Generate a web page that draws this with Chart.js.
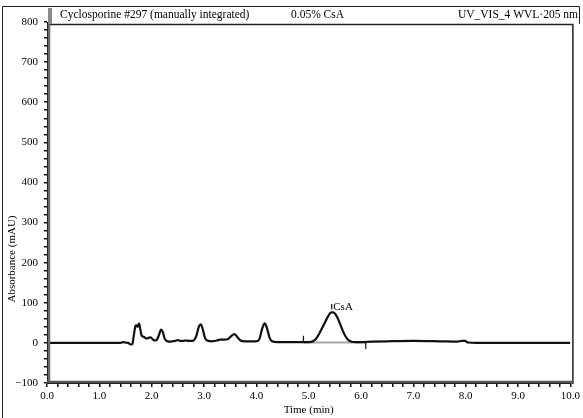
<!DOCTYPE html>
<html>
<head>
<meta charset="utf-8">
<script src="https://cdn.jsdelivr.net/npm/chart.js@4.4.1/dist/chart.umd.min.js"></script>
<style>
html,body{margin:0;padding:0;background:#fff;}
canvas{display:block;}
</style>
</head>
<body>
<canvas id="c" width="583" height="418"></canvas>
<script>
// Chromatogram trace (time in min, absorbance in mAU)
const times = [0.0,1.40,1.45,1.50,1.55,1.60,1.63,1.66,1.69,1.71,1.73,1.76,1.78,1.81,1.85,1.90,1.95,1.98,2.02,2.06,2.10,2.14,2.18,2.21,2.25,2.30,2.35,2.40,2.45,2.50,2.55,2.60,2.65,2.70,2.75,2.80,2.85,2.90,2.94,2.98,3.02,3.08,3.15,3.25,3.30,3.38,3.45,3.52,3.58,3.64,3.70,3.78,3.90,4.00,4.06,4.11,4.16,4.20,4.25,4.30,4.40,4.60,4.80,4.90,5.00,5.08,5.15,5.22,5.30,5.37,5.43,5.47,5.52,5.58,5.64,5.70,5.76,5.82,5.90,6.00,6.20,6.50,7.00,7.50,7.85,7.92,7.98,8.05,8.20,9.00,10.0];
const absorbance = [0,0,2,1,0,-4,-3,20,42,44,40,48,36,18,15,11,13,14,9,6,8,20,33,28,10,4,3,4,5,7,5,5,6,5,5,6,16,40,46,32,12,5,4,6,8,8,9,17,22,14,6,4,4,4,10,35,49,38,14,4,2,2,2,2,2,4,12,28,48,66,76,76,70,54,34,17,7,3,2,2,3,4,5,4,3,5,5,1,0,0,0];

// Integration baseline under the CsA peak
const baselineTimes = [4.90, 6.09];
const baselineValues = [1, 1];

// Integration markers (vertical ticks): [time, from, to]
const markerTimes = [4.90, 5.44, 6.09];
const markerFrom = [2, 83, 2];
const markerTo = [18, 97, -15];

const peakLabel = "CsA";
const peakLabelTime = 5.47;
const peakLabelValue = 90;

const xTickLabels = [0,1,2,3,4,5,6,7,8,9,10];
const yTickLabels = [-100,0,100,200,300,400,500,600,700,800];

const headerLeft = "Cyclosporine #297 (manually integrated)";
const headerMid = "0.05% CsA";
const headerRight = "UV_VIS_4 WVL\u00B7205 nm";
const xTitle = "Time (min)";
const yTitle = "Absorbance (mAU)";

const FONT = "'Liberation Serif','Times New Roman',serif";

const datasets = [];
datasets.push({
  data: baselineTimes.map((t,i)=>({x:t,y:baselineValues[i]})),
  borderColor: '#a8a8a8', borderWidth: 2, pointRadius: 0, tension: 0, order: 2
});
datasets.push({
  data: times.map((t,i)=>({x:t,y:absorbance[i]})),
  borderColor: '#111', borderWidth: 2.2, pointRadius: 0,
  cubicInterpolationMode: 'monotone', order: 1
});
markerTimes.forEach((t,i)=>{
  datasets.push({
    data: [{x:t,y:markerFrom[i]},{x:t,y:markerTo[i]}],
    borderColor: '#111', borderWidth: 1.2, pointRadius: 0, tension: 0, order: 0
  });
});

const isInList = (v, list) => list.some(l => Math.abs(l - v) < 1e-6);

const decor = {
  id: 'decor',
  beforeDraw(chart) {
    const ctx = chart.ctx;
    ctx.save();
    ctx.fillStyle = '#fff';
    ctx.fillRect(0,0,chart.width,chart.height);
    ctx.restore();
  },
  afterDraw(chart) {
    const ctx = chart.ctx;
    const a = chart.chartArea;
    const xs = chart.scales.x, ys = chart.scales.y;
    ctx.save();
    // outer frame
    ctx.strokeStyle = '#222';
    ctx.lineWidth = 1;
    ctx.beginPath();
    ctx.moveTo(2.5, 418); ctx.lineTo(2.5, 6.5); ctx.lineTo(579.5, 6.5); ctx.lineTo(579.5, 24);
    ctx.stroke();
    // plot box
    ctx.lineWidth = 1.5;
    ctx.strokeStyle = '#222';
    ctx.beginPath();
    ctx.moveTo(a.left + 2, 24.5); ctx.lineTo(a.right + 2.5, 24.5); ctx.lineTo(a.right + 2.5, a.bottom + 1);
    ctx.stroke();
    ctx.strokeStyle = '#6a6a6a';
    ctx.lineWidth = 2.5;
    ctx.beginPath();
    ctx.moveTo(a.left + 2, 24); ctx.lineTo(a.left + 2, a.bottom);
    ctx.stroke();
    ctx.strokeStyle = '#555';
    ctx.lineWidth = 2.5;
    ctx.beginPath();
    ctx.moveTo(a.left, a.bottom - 1); ctx.lineTo(a.right + 3, a.bottom - 1);
    ctx.stroke();
    // small gray marker in header
    ctx.fillStyle = '#8a8a8a';
    ctx.fillRect(a.left + 1, 8, 4, 16);
    // header texts
    ctx.fillStyle = '#000';
    ctx.font = "11.5px " + FONT;
    ctx.textBaseline = 'middle';
    ctx.textAlign = 'left';
    ctx.fillText(headerLeft, 60, 14.5);
    ctx.fillText(headerMid, 291, 14.5);
    ctx.textAlign = 'right';
    ctx.fillText(headerRight, 578, 14.5);
    // peak label
    ctx.font = "11px " + FONT;
    ctx.textAlign = 'left';
    ctx.fillText(peakLabel, xs.getPixelForValue(peakLabelTime), ys.getPixelForValue(peakLabelValue));
    // axis titles
    ctx.textAlign = 'center';
    ctx.fillText(xTitle, (a.left + a.right) / 2, 410);
    ctx.translate(12, 259);
    ctx.rotate(-Math.PI / 2);
    ctx.fillText(yTitle, 0, 0);
    ctx.restore();
  }
};

new Chart(document.getElementById('c'), {
  type: 'line',
  data: { datasets },
  options: {
    responsive: false,
    animation: false,
    devicePixelRatio: 1,
    layout: { padding: { left: 0, right: 10, top: 22, bottom: 0 } },
    plugins: { legend: { display: false }, tooltip: { enabled: false } },
    scales: {
      x: {
        type: 'linear', min: 0, max: 10,
        afterFit(s) { s.height = 35; },
        border: { display: true, color: '#111', width: 1 },
        grid: { drawOnChartArea: false, drawTicks: true, tickLength: 4, color: '#111', lineWidth: 1.5 },
        ticks: {
          stepSize: 0.2, autoSkip: false, maxRotation: 0, padding: 3,
          color: '#000', font: { family: FONT, size: 11 },
          callback: v => isInList(v, xTickLabels) ? Number(v).toFixed(1) : ''
        }
      },
      y: {
        type: 'linear', min: -100, max: 800,
        afterFit(s) { s.width = 47; },
        border: { display: true, color: '#111', width: 1 },
        grid: { drawOnChartArea: false, drawTicks: true, tickLength: 3, color: '#111', lineWidth: 1.5 },
        ticks: {
          stepSize: 20, autoSkip: false, padding: 6,
          color: '#000', font: { family: FONT, size: 11 },
          callback: v => isInList(v, yTickLabels) ? (v < 0 ? '\u2212' + Math.abs(v) : String(v)) : ''
        }
      }
    }
  },
  plugins: [decor]
});
</script>
</body>
</html>
